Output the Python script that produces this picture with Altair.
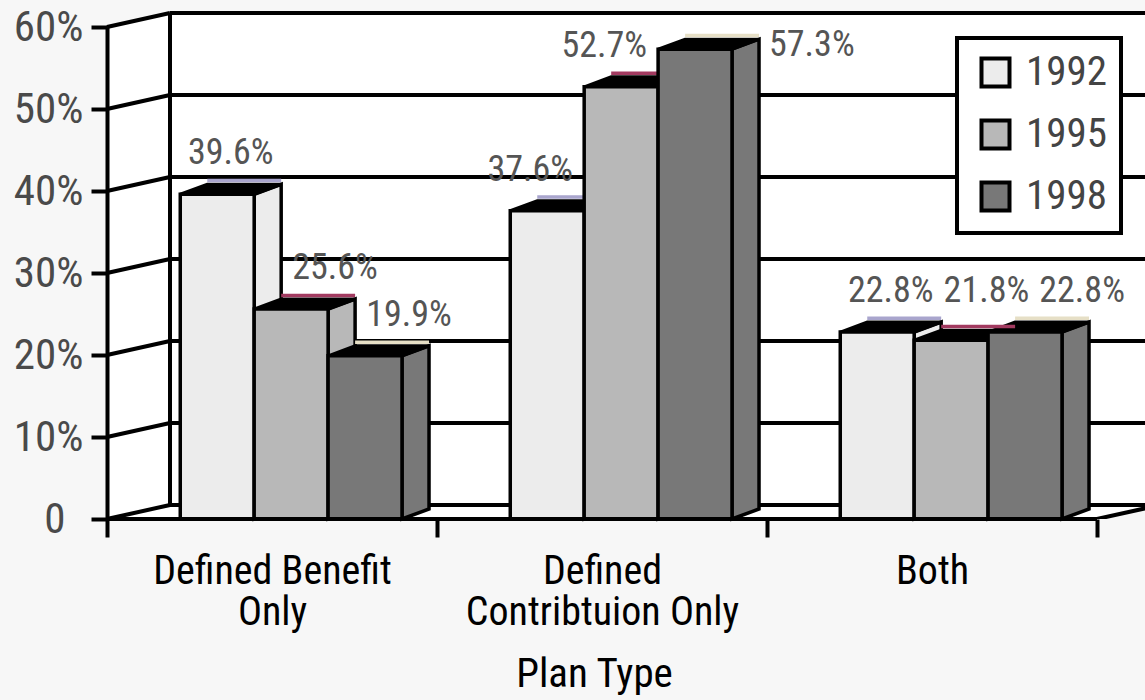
import json
import altair as alt
import pandas as pd

# ---------------- data ----------------
categories = ["Defined Benefit\nOnly", "Defined\nContribtuion Only", "Both"]
years = ["1992", "1995", "1998"]
share_1992 = [39.6, 37.6, 22.8]
share_1995 = [25.6, 52.7, 21.8]
share_1998 = [19.9, 57.3, 22.8]
y_ticks = [0, 10, 20, 30, 40, 50, 60]
x_title = "Plan Type"

# ---------------- style / layout ----------------
front_colors = ["#ececec", "#b8b8b8", "#787878"]
top_colors = ["#a9a5cd", "#a23a60", "#e6dfc6"]
FONT = "Roboto Condensed, Liberation Sans Narrow, DejaVu Sans Condensed, Liberation Sans, sans-serif"
W, H = 1038, 492
PX_CAT = 330.0
PX_PCT = H / 60.0
XMAX = W / PX_CAT
G0, BW = 0.222, 0.224
DX, DY = 27 / PX_CAT, 10 / PX_PCT
DXB, DYB = 63 / PX_CAT, 14 / PX_PCT
LINE = 4
EDGE = 3.5
FS_LAB = 36

series = [share_1992, share_1995, share_1998]
ncat = len(categories)
ymax = y_ticks[-1]

xs = alt.Scale(domain=[0, XMAX], nice=False, zero=False)
ys = alt.Scale(domain=[0, ymax], nice=False, zero=False)
fill_scale = alt.Scale(domain=years, range=front_colors)

Y_AXIS = alt.Axis(orient="left", values=y_ticks, grid=False, domain=True,
                  domainColor="black", domainWidth=LINE, ticks=True, tickSize=16,
                  tickWidth=LINE, tickColor="black", labelFont=FONT, labelFontSize=43,
                  labelColor="#4a4a4a",
                  labelPadding={"condition": {"test": "datum.value === 0", "value": 26}, "value": 8},
                  labelOverlap=False, title=None, zindex=5,
                  labelExpr="datum.value == 0 ? '0' : datum.value + '%'")

LEGEND = alt.Legend(
    title=None, orient="none", legendX=850, legendY=11, direction="vertical", zindex=5,
    symbolType="square", symbolSize=784, symbolStrokeColor="black", symbolStrokeWidth=4,
    symbolOffset=4, labelFont=FONT, labelFontSize=41, labelColor="#444",
    labelOffset=10, rowPadding=17, padding=14, fillColor="white", strokeColor="black",
    labelExpr="datum.label + '\u00a0\u00a0'")


def X(f, **kw):
    return alt.X(f, type="quantitative", scale=xs, axis=kw.pop("axis", None), **kw)


def Y(f):
    return alt.Y(f, type="quantitative", scale=ys, axis=Y_AXIS, stack=None)


fronts, sides, tops, toplines, labels = [], [], [], [], []


def text_w(s):
    return sum(0.228 if c == "." else 0.729 if c == "%" else 0.456 for c in s) * FS_LAB / PX_CAT


half_h = 1.7
gap = 12 / PX_CAT
for i in range(ncat):
    prev = None
    for j, yr in enumerate(years):
        v = series[j][i]
        x0 = i + G0 + j * BW
        x1 = x0 + BW
        bid = f"{i}-{j}"
        fronts.append(dict(year=yr, x0=x0, x1=x1, v=v, base=0.0))
        sides.append(dict(id=bid, year=yr, x=x1, y=v, y2=0.0))
        sides.append(dict(id=bid, year=yr, x=x1 + DX, y=v + DY, y2=DY))
        tops.append(dict(id=bid, x=x0, y=v, y2=v))
        tops.append(dict(id=bid, x=x0 + DX, y=v + DY, y2=v))
        tops.append(dict(id=bid, x=x1, y=v + DY, y2=v))
        tops.append(dict(id=bid, x=x1 + DX, y=v + DY, y2=v + DY))
        toplines.append(dict(tcolor=top_colors[j], xa=x0 + DX, xb=x1 + DX, y=v + DY + 0.45))
        s = f"{v:.1f}%"
        w = text_w(s)
        ly = v + 5
        if ly + half_h > ymax:
            cx = x1 + DX + 11 / PX_CAT + w / 2
            ly = v + 0.5
        else:
            cx = x0 + BW / 2 + DX / 2
            if j > 0 and series[j - 1][i] + DY > ly - half_h:
                cx = max(cx, x0 + DX + gap + w / 2)
            if j < len(years) - 1 and series[j + 1][i] + DY > ly - half_h:
                cx = min(cx, x1 - gap - w / 2)
            if prev is not None and abs(prev[1] - ly) < 2 * half_h:
                cx = max(cx, prev[0] + gap + w / 2)
                ly = prev[1]
        prev = (cx + w / 2, ly)
        labels.append(dict(x=cx, y=ly, text=s))

df_front = pd.DataFrame(fronts)
df_side = pd.DataFrame(sides)
df_top = pd.DataFrame(tops)
df_tl = pd.DataFrame(toplines)
df_lab = pd.DataFrame(labels)

df_lwall = pd.DataFrame([dict(x=0.0, lo=0.0, hi=ymax), dict(x=DXB, lo=DYB, hi=ymax + DYB)])
df_bwall = pd.DataFrame([dict(xa=DXB, xb=XMAX, lo=DYB, hi=ymax + DYB)])
df_floor = pd.DataFrame([
    dict(x=0.0, lo=0.0, hi=0.0), dict(x=DXB, lo=0.0, hi=DYB),
    dict(x=float(ncat), lo=0.0, hi=DYB), dict(x=ncat + DXB, lo=DYB, hi=DYB)])
df_gback = pd.DataFrame([dict(xa=DXB, xb=XMAX, y=t + DYB) for t in y_ticks])
df_gside = pd.DataFrame([dict(xa=0.0, xb=DXB, ya=float(t), yb=t + DYB) for t in y_ticks])
df_bvert = pd.DataFrame([dict(x=DXB, ya=DYB, yb=ymax + DYB)])
df_fright = pd.DataFrame([dict(xa=float(ncat), xb=ncat + DXB, ya=0.0, yb=DYB)])
df_xline = pd.DataFrame([dict(xa=0.0, xb=float(ncat), y=0.0)])

cat_lines = json.dumps([c.split("\n") for c in categories])

left_wall = alt.Chart(df_lwall).mark_area(fill="white").encode(
    x=X("x"), y=Y("hi"), y2=alt.Y2("lo"))
back_wall = alt.Chart(df_bwall).mark_rect(fill="white").encode(
    x=X("xa"), x2=alt.X2("xb"), y=Y("hi"), y2=alt.Y2("lo"))
floor = alt.Chart(df_floor).mark_area(fill="white", clip=True).encode(
    x=X("x"), y=Y("hi"), y2=alt.Y2("lo"))
grid_back = alt.Chart(df_gback).mark_rule(color="black", strokeWidth=LINE).encode(
    x=X("xa"), x2=alt.X2("xb"), y=Y("y"))
grid_side = alt.Chart(df_gside).mark_rule(color="black", strokeWidth=LINE).encode(
    x=X("xa"), x2=alt.X2("xb"), y=Y("ya"), y2=alt.Y2("yb"))
back_vert = alt.Chart(df_bvert).mark_rule(color="black", strokeWidth=LINE).encode(
    x=X("x"), y=Y("ya"), y2=alt.Y2("yb"))
floor_right = alt.Chart(df_fright).mark_rule(color="black", strokeWidth=LINE, clip=True).encode(
    x=X("xa"), x2=alt.X2("xb"), y=Y("ya"), y2=alt.Y2("yb"))

side_faces = alt.Chart(df_side).mark_area(stroke="black", strokeWidth=EDGE, strokeJoin="miter").encode(
    x=X("x"), y=Y("y"), y2=alt.Y2("y2"),
    fill=alt.Fill("year:N", scale=fill_scale, legend=LEGEND), detail="id:N")
top_faces = alt.Chart(df_top).mark_area(fill="black", stroke="black", strokeWidth=3).encode(
    x=X("x"), y=Y("y"), y2=alt.Y2("y2"), detail="id:N")
top_lines = alt.Chart(df_tl).mark_rule(strokeWidth=3.5).encode(
    x=X("xa"), x2=alt.X2("xb"), y=Y("y"),
    stroke=alt.Stroke("tcolor:N", scale=None))
front_faces = alt.Chart(df_front).mark_rect(stroke="black", strokeWidth=EDGE).encode(
    x=X("x0"), x2=alt.X2("x1"), y=Y("v"), y2=alt.Y2("base"),
    fill=alt.Fill("year:N", scale=fill_scale, legend=LEGEND))

x_line = alt.Chart(df_xline).mark_rule(color="black", strokeWidth=LINE).encode(
    x=X("xa", axis=alt.Axis(orient="bottom", values=list(range(ncat + 1)), labels=False,
                           domain=False, grid=False, ticks=True, tickSize=18, tickWidth=LINE,
                           tickColor="black", title=None, zindex=5)),
    x2=alt.X2("xb"),
    y=Y("y"))

data_labels = alt.Chart(df_lab).mark_text(font=FONT, fontSize=FS_LAB, color="#555",
                                          align="center", baseline="middle").encode(
    x=X("x", axis=alt.Axis(orient="bottom", values=[k + 0.5 for k in range(ncat)], ticks=False,
                          tickSize=0, domain=False, grid=False,
                          labelExpr=f"{cat_lines}[floor(datum.value)]",
                          labelFont=FONT, labelFontSize=40, labelColor="black", labelPadding=32,
                          labelLineHeight=41, labelFlush=False, labelOverlap=False,
                          labelLimit=0, zindex=5,
                          title=x_title, titleFont=FONT, titleFontSize=41, titleFontWeight="normal",
                          titleColor="black", titleX=487, titleY=167, titleBaseline="alphabetic",
                          titleAlign="center")),
    y=Y("y"), text="text:N")

chart = alt.layer(
    left_wall, back_wall, floor, grid_back, grid_side, back_vert, floor_right,
    side_faces, top_faces, top_lines, front_faces, x_line, data_labels
).resolve_axis(x="independent").properties(
    width=W, height=H, background="#f7f7f7",
    padding={"left": 107, "top": 27, "right": 0, "bottom": 181},
    autosize=alt.AutoSizeParams(type="none"),
).configure_view(stroke=None).configure_legend(strokeWidth=4)

chart.save("out.html", embed_options={"renderer": "svg", "actions": False})
